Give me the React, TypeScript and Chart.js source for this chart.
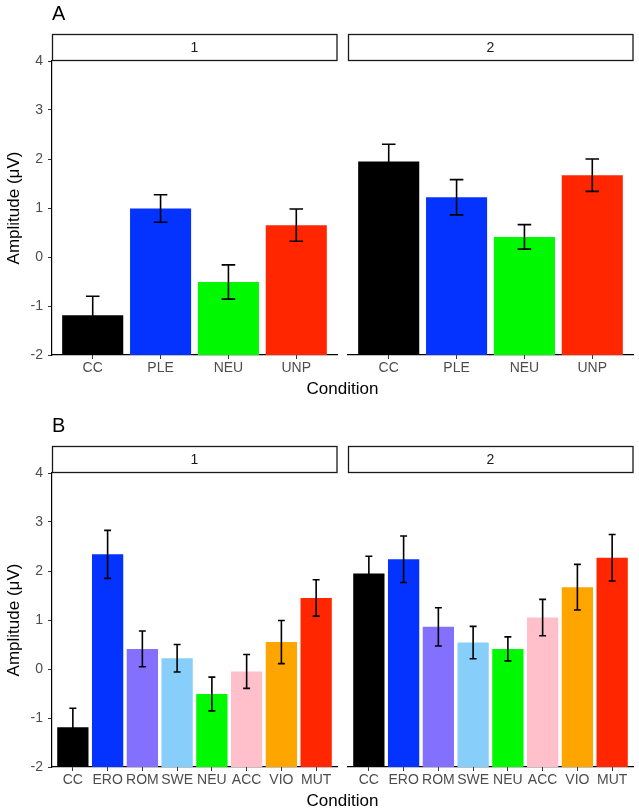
import React, { useEffect, useRef } from 'react';
import { Chart, registerables } from 'chart.js';

Chart.register(...registerables);

// ---------- data ----------
const conditionsA = ['CC', 'PLE', 'NEU', 'UNP'];
const colorsA = ['#000000', '#0433FF', '#00F900', '#FF2600'];
const meansA1 = [-1.19, 0.99, -0.51, 0.65];
const seA1 = [0.39, 0.28, 0.35, 0.33];
const meansA2 = [1.95, 1.22, 0.41, 1.67];
const seA2 = [0.35, 0.36, 0.25, 0.33];

const conditionsB = ['CC', 'ERO', 'ROM', 'SWE', 'NEU', 'ACC', 'VIO', 'MUT'];
const colorsB = ['#000000', '#0433FF', '#8470FF', '#87CEFA', '#00F900', '#FFC0CB', '#FFA500', '#FF2600'];
const meansB1 = [-1.19, 2.34, 0.41, 0.22, -0.51, -0.05, 0.55, 1.45];
const seB1 = [0.39, 0.49, 0.365, 0.28, 0.345, 0.345, 0.44, 0.37];
const meansB2 = [1.95, 2.24, 0.86, 0.54, 0.41, 1.05, 1.67, 2.27];
const seB2 = [0.35, 0.475, 0.39, 0.33, 0.245, 0.37, 0.465, 0.475];

const facetLabels = ['1', '2'];
const rowLabels = ['A', 'B'];
const Y_MIN = -2;
const Y_MAX = 4;
const Y_TITLE = 'Amplitude (\u03BCV)';
const X_TITLE = 'Condition';

// ---------- layout ----------
const FONT = '"Liberation Sans", Arial, Helvetica, sans-serif';
const W = 639;
const PLOT_TOP = 61;
const PLOT_BOTTOM = 355;
const F1_LEFT = 52;
const F1_RIGHT = 337;
const F2_LEFT = 348;
const F2_RIGHT = 633;
const TICK_SIZE = 14;
const TITLE_SIZE = 17;

type FacetProps = {
  categories: string[];
  means: number[];
  ses: number[];
  colors: string[];
  strip: string;
  side: 'left' | 'right';
  height: number;
  rowLabel: string;
};

function FacetChart({ categories, means, ses, colors, strip, side, height, rowLabel }: FacetProps) {
  const ref = useRef<HTMLCanvasElement>(null);

  useEffect(() => {
    const canvas = ref.current;
    if (!canvas) return;
    const n = categories.length;
    const isLeft = side === 'left';

    const errorBars = {
      id: 'errorBars',
      afterDatasetsDraw(chart: any) {
        const { ctx } = chart;
        const xs = chart.scales.x;
        const ys = chart.scales.y;
        ctx.save();
        ctx.strokeStyle = '#000000';
        ctx.lineWidth = 1.6;
        ctx.lineCap = 'butt';
        means.forEach((m, i) => {
          const cx = xs.getPixelForValue(i + 1);
          const half = xs.getPixelForValue(i + 1.1) - cx;
          const top = ys.getPixelForValue(m + ses[i]);
          const bot = ys.getPixelForValue(m - ses[i]);
          ctx.beginPath();
          ctx.moveTo(cx, top);
          ctx.lineTo(cx, bot);
          ctx.moveTo(cx - half, top);
          ctx.lineTo(cx + half, top);
          ctx.moveTo(cx - half, bot);
          ctx.lineTo(cx + half, bot);
          ctx.stroke();
        });
        ctx.restore();
      },
    };

    const stripPlugin = {
      id: 'strip',
      afterDraw(chart: any) {
        const { ctx, chartArea } = chart;
        ctx.save();
        ctx.fillStyle = '#ffffff';
        ctx.strokeStyle = '#1a1a1a';
        ctx.lineWidth = 1.3;
        const x = chartArea.left;
        const w = chartArea.right - chartArea.left;
        const y = chartArea.top - 26.5;
        ctx.fillRect(x, y, w, 26);
        ctx.strokeRect(x + 0.5, y, w - 0.5, 26);
        ctx.fillStyle = '#1A1A1A';
        ctx.font = `${TICK_SIZE}px ${FONT}`;
        ctx.textAlign = 'center';
        ctx.textBaseline = 'middle';
        ctx.fillText(strip, x + w / 2, y + 13.5);
        ctx.restore();
      },
    };

    const textPlugin = {
      id: 'rowText',
      afterDraw(chart: any) {
        const { ctx } = chart;
        ctx.save();
        ctx.fillStyle = '#000000';
        ctx.textBaseline = 'middle';
        ctx.textAlign = 'left';
        ctx.font = `20px ${FONT}`;
        ctx.fillText(rowLabel, F1_LEFT, 14);
        ctx.textAlign = 'center';
        ctx.font = `${TITLE_SIZE}px ${FONT}`;
        ctx.fillText(X_TITLE, (F1_LEFT + F2_RIGHT) / 2, 389.5);
        ctx.restore();
      },
    };

    const tickFont = { family: FONT, size: TICK_SIZE };

    const chart = new Chart(canvas, {
      type: 'bar',
      data: {
        datasets: [
          {
            data: means.map((m, i) => ({ x: i + 1, y: [Y_MIN, m] })) as any,
            backgroundColor: colors,
            borderWidth: 0,
            categoryPercentage: 1,
            barPercentage: 0.9,
          },
        ],
      },
      options: {
        responsive: false,
        animation: false,
        devicePixelRatio: 1,
        events: [],
        layout: {
          padding: {
            top: PLOT_TOP,
            bottom: 0,
            left: isLeft ? 0 : F2_LEFT,
            right: isLeft ? W - F1_RIGHT : W - F2_RIGHT,
          },
        },
        plugins: {
          legend: { display: false },
          tooltip: { enabled: false },
        },
        scales: {
          x: {
            type: 'linear',
            offset: false,
            min: 0.4,
            max: n + 0.6,
            afterBuildTicks: (s: any) => {
              s.ticks = categories.map((_, i) => ({ value: i + 1 }));
            },
            afterFit: (s: any) => {
              s.height = height - PLOT_BOTTOM;
            },
            ticks: {
              autoSkip: false,
              maxRotation: 0,
              minRotation: 0,
              color: '#4D4D4D',
              font: tickFont,
              padding: 1,
              callback: (v: any) => categories[Math.round(Number(v)) - 1] ?? '',
            },
            grid: {
              display: true,
              offset: false,
              drawOnChartArea: false,
              drawTicks: true,
              tickLength: 4,
              tickWidth: 1,
              color: '#333333',
            },
            border: { display: true, color: '#000000', width: 1.2 },
          },
          y: {
            type: 'linear',
            display: isLeft,
            min: Y_MIN,
            max: Y_MAX,
            afterFit: (s: any) => {
              s.width = isLeft ? F1_LEFT : 0;
            },
            ticks: {
              stepSize: 1,
              color: '#4D4D4D',
              font: tickFont,
              padding: 5,
            },
            grid: {
              display: true,
              drawOnChartArea: false,
              drawTicks: true,
              tickLength: 4,
              tickWidth: 1,
              color: '#333333',
            },
            border: { display: true, color: '#000000', width: 1.2 },
            title: {
              display: true,
              text: Y_TITLE,
              color: '#000000',
              font: { family: FONT, size: TITLE_SIZE },
              padding: { top: 4, bottom: 0 },
            },
          },
        },
      } as any,
      plugins: isLeft ? [errorBars, stripPlugin, textPlugin] : [errorBars, stripPlugin],
    });

    return () => chart.destroy();
  }, [categories, means, ses, colors, strip, side, height, rowLabel]);

  return (
    <canvas
      ref={ref}
      width={W}
      height={height}
      style={{ position: 'absolute', left: 0, top: 0, width: W, height }}
    />
  );
}

export default function App() {
  const rowAHeight = 412;
  const rowBHeight = 398;
  return (
    <div style={{ position: 'absolute', left: 0, top: 0, width: W, height: 810, background: '#ffffff', overflow: 'hidden' }}>
      <div style={{ position: 'absolute', left: 0, top: 0, width: W, height: rowAHeight }}>
        <FacetChart categories={conditionsA} means={meansA1} ses={seA1} colors={colorsA} strip={facetLabels[0]} side="left" height={rowAHeight} rowLabel={rowLabels[0]} />
        <FacetChart categories={conditionsA} means={meansA2} ses={seA2} colors={colorsA} strip={facetLabels[1]} side="right" height={rowAHeight} rowLabel={rowLabels[0]} />
      </div>
      <div style={{ position: 'absolute', left: 0, top: rowAHeight, width: W, height: rowBHeight }}>
        <FacetChart categories={conditionsB} means={meansB1} ses={seB1} colors={colorsB} strip={facetLabels[0]} side="left" height={rowBHeight} rowLabel={rowLabels[1]} />
        <FacetChart categories={conditionsB} means={meansB2} ses={seB2} colors={colorsB} strip={facetLabels[1]} side="right" height={rowBHeight} rowLabel={rowLabels[1]} />
      </div>
    </div>
  );
}
